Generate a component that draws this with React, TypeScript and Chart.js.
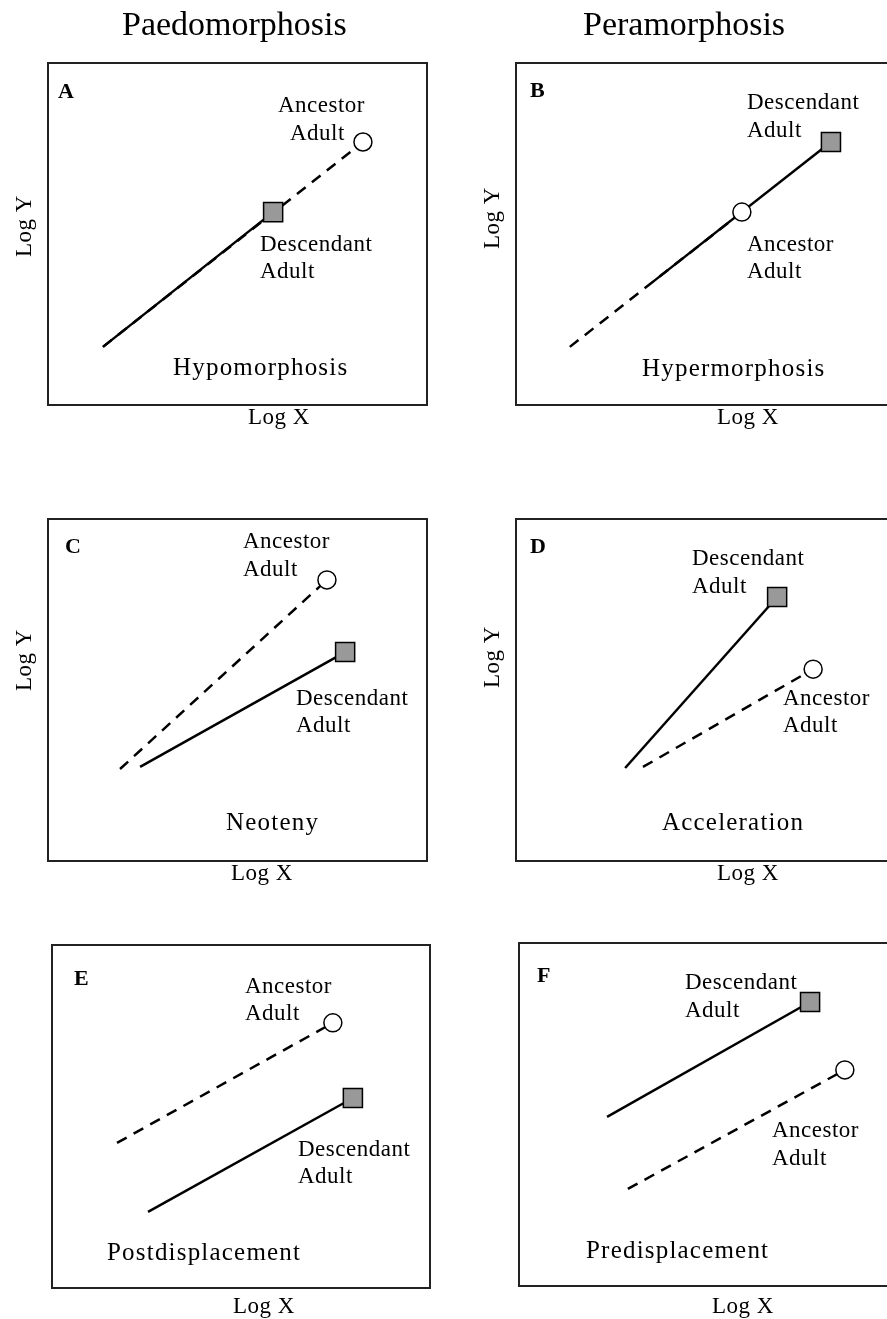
import { useEffect, useRef } from "react";
import { Chart, registerables } from "chart.js";

Chart.register(...registerables);

// ---------- data (arbitrary log units, 0..100 on both axes) ----------
const panelLetters = ["A", "B", "C", "D", "E", "F"];
const processNames = [
  "Hypomorphosis",
  "Hypermorphosis",
  "Neoteny",
  "Acceleration",
  "Postdisplacement",
  "Predisplacement",
];
const groupTitles = ["Paedomorphosis", "Peramorphosis"];
const axisLabelX = "Log X";
const axisLabelY = "Log Y";
const showLogY = [true, true, true, true, false, false];

// ancestor trajectory (dashed): start -> ancestor adult
const ancestorStart = [
  [14.5, 17.0],
  [14.2, 17.0],
  [19.0, 26.9],
  [33.5, 27.5],
  [17.2, 42.3],
  [28.8, 28.3],
];
const ancestorAdult = [
  [83.1, 76.9],
  [59.6, 56.4],
  [73.6, 82.2],
  [78.4, 56.1],
  [74.3, 77.3],
  [86.2, 63.0],
];
// descendant trajectory (solid): start -> descendant adult
const descendantStart = [
  [14.5, 17.0],
  [36.1, 36.0],
  [24.3, 27.5],
  [28.8, 27.2],
  [25.4, 22.2],
  [23.3, 49.3],
];
const descendantAdult = [
  [59.4, 56.4],
  [83.1, 76.9],
  [78.4, 61.1],
  [68.9, 77.2],
  [79.6, 55.4],
  [77.0, 82.8],
];

// ---------- layout (pixels) ----------
const CW = 920;
const CH = 1319;
const boxes = [
  { l: 48, t: 63, r: 427, b: 405 },
  { l: 516, t: 63, r: 895, b: 405 },
  { l: 48, t: 519, r: 427, b: 861 },
  { l: 516, t: 519, r: 895, b: 861 },
  { l: 52, t: 945, r: 430, b: 1288 },
  { l: 519, t: 943, r: 897, b: 1286 },
];
// offsets relative to the box's left/top (logX: dx, dy below bottom; logY: dx from left, dy center)
const labelLayout = [
  { letter: [10, 35], anc: [[230, 49], [242, 77]], desc: [[212, 188], [212, 215]], proc: [125, 312], logX: [200, 19], logY: [-17, 163] },
  { letter: [14, 34], anc: [[231, 188], [231, 215]], desc: [[231, 46], [231, 74]], proc: [126, 313], logX: [201, 19], logY: [-17, 155] },
  { letter: [17, 34], anc: [[195, 29], [195, 57]], desc: [[248, 186], [248, 213]], proc: [178, 311], logX: [183, 19], logY: [-17, 141] },
  { letter: [14, 34], anc: [[267, 186], [267, 213]], desc: [[176, 46], [176, 74]], proc: [146, 311], logX: [201, 19], logY: [-17, 138] },
  { letter: [22, 40], anc: [[193, 48], [193, 75]], desc: [[246, 211], [246, 238]], proc: [55, 315], logX: [181, 25], logY: [0, 0] },
  { letter: [18, 39], anc: [[253, 194], [253, 222]], desc: [[166, 46], [166, 74]], proc: [67, 315], logX: [193, 27], logY: [0, 0] },
];
const titleLayout = [
  { x: 122, y: 35 },
  { x: 583, y: 35 },
];

const SERIF = '"Liberation Serif", "Times New Roman", serif';

function pt(p: number[]) {
  return { x: p[0], y: p[1] };
}

function makeDecor(i: number) {
  return {
    id: "decor" + i,
    beforeDatasetsDraw(chart: any) {
      const { ctx, chartArea: a } = chart;
      ctx.save();
      ctx.strokeStyle = "#222";
      ctx.lineWidth = 2;
      ctx.strokeRect(a.left, a.top, a.right - a.left, a.bottom - a.top);
      ctx.restore();
    },
    afterDraw(chart: any) {
      const { ctx, chartArea: a } = chart;
      const L = labelLayout[i];
      ctx.save();
      ctx.fillStyle = "#000";
      ctx.textBaseline = "alphabetic";
      ctx.textAlign = "left";
      const setSpacing = (s: string) => {
        try {
          (ctx as any).letterSpacing = s;
        } catch (e) {}
      };
      // panel letter
      ctx.font = "bold 22px " + SERIF;
      setSpacing("0px");
      ctx.fillText(panelLetters[i], a.left + L.letter[0], a.top + L.letter[1]);
      // group title
      if (i < 2) {
        ctx.font = "34px " + SERIF;
        ctx.fillText(groupTitles[i], titleLayout[i].x, titleLayout[i].y);
      }
      // point labels
      ctx.font = "23px " + SERIF;
      setSpacing("0.5px");
      ctx.fillText("Ancestor", a.left + L.anc[0][0], a.top + L.anc[0][1]);
      ctx.fillText("Adult", a.left + L.anc[1][0], a.top + L.anc[1][1]);
      ctx.fillText("Descendant", a.left + L.desc[0][0], a.top + L.desc[0][1]);
      ctx.fillText("Adult", a.left + L.desc[1][0], a.top + L.desc[1][1]);
      // axis labels
      ctx.fillText(axisLabelX, a.left + L.logX[0], a.bottom + L.logX[1]);
      if (showLogY[i]) {
        ctx.save();
        ctx.translate(a.left + L.logY[0], a.top + L.logY[1]);
        ctx.rotate(-Math.PI / 2);
        ctx.textAlign = "center";
        ctx.fillText(axisLabelY, 0, 0);
        ctx.restore();
      }
      // process name
      ctx.font = "25px " + SERIF;
      setSpacing("1.2px");
      ctx.fillText(processNames[i], a.left + L.proc[0], a.top + L.proc[1]);
      ctx.restore();
    },
  };
}

function Panel({ index }: { index: number }) {
  const ref = useRef<HTMLCanvasElement | null>(null);
  useEffect(() => {
    if (!ref.current) return;
    const b = boxes[index];
    const chart = new Chart(ref.current, {
      type: "scatter",
      data: {
        datasets: [
          {
            label: "Ancestor adult",
            data: [pt(ancestorAdult[index])],
            showLine: false,
            pointStyle: "circle",
            pointRadius: 9,
            pointBackgroundColor: "#ffffff",
            pointBorderColor: "#000000",
            pointBorderWidth: 1.5,
            order: 0,
          },
          {
            label: "Descendant adult",
            data: [pt(descendantAdult[index])],
            showLine: false,
            pointStyle: "rect",
            pointRadius: 13.5,
            pointBackgroundColor: "#999999",
            pointBorderColor: "#000000",
            pointBorderWidth: 1.5,
            order: 0,
          },
          {
            label: "Descendant",
            data: [pt(descendantStart[index]), pt(descendantAdult[index])],
            showLine: true,
            borderColor: "#000000",
            borderWidth: 2.5,
            pointRadius: 0,
            order: 1,
          },
          {
            label: "Ancestor",
            data: [pt(ancestorStart[index]), pt(ancestorAdult[index])],
            showLine: true,
            borderColor: "#000000",
            borderWidth: 2.5,
            borderDash: [11, 8],
            pointRadius: 0,
            order: 2,
          },
        ] as any,
      },
      options: {
        animation: false,
        responsive: false,
        devicePixelRatio: 1,
        events: [],
        clip: false as any,
        layout: {
          padding: { left: b.l, top: b.t, right: CW - b.r, bottom: CH - b.b },
        },
        scales: {
          x: { type: "linear", min: 0, max: 100, display: false },
          y: { type: "linear", min: 0, max: 100, display: false },
        },
        plugins: {
          legend: { display: false },
          tooltip: { enabled: false },
          title: { display: false },
        },
      },
      plugins: [makeDecor(index)],
    });
    return () => chart.destroy();
  }, [index]);
  return (
    <canvas
      ref={ref}
      width={CW}
      height={CH}
      style={{ position: "absolute", left: 0, top: 0, width: CW, height: CH }}
    />
  );
}

export default function App() {
  return (
    <div
      style={{
        position: "absolute",
        left: 0,
        top: 0,
        width: 887,
        height: 1319,
        overflow: "hidden",
        background: "#ffffff",
      }}
    >
      {panelLetters.map((_, i) => (
        <Panel key={i} index={i} />
      ))}
    </div>
  );
}
